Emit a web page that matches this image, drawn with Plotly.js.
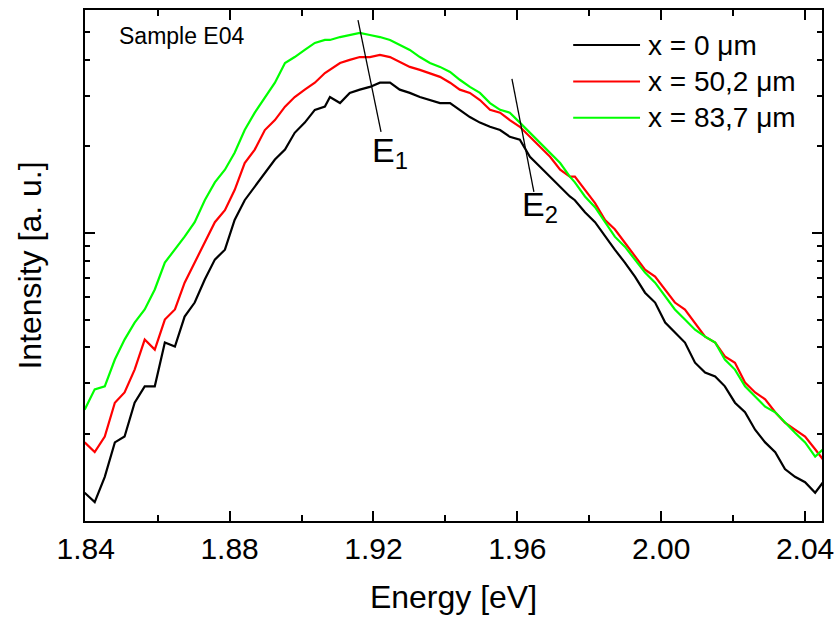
<!DOCTYPE html>
<html>
<head>
<meta charset="utf-8">
<script src="https://cdn.plot.ly/plotly-3.0.1.min.js"></script>
<style>html,body{margin:0;padding:0;background:#fff;}#chart{width:837px;height:621px;}</style>
</head>
<body>
<div id="chart"></div>
<script>
// Energy axis (eV), shared by all three spectra
const energy = [
  1.8397, 1.8425, 1.8453, 1.8481, 1.8508, 1.8536, 1.8564, 1.8592, 1.8620, 1.8648,
  1.8675, 1.8703, 1.8731, 1.8759, 1.8787, 1.8814, 1.8842, 1.8870, 1.8898, 1.8926,
  1.8954, 1.8981, 1.9009, 1.9037, 1.9065,
  1.9079, 1.9107, 1.9134, 1.9162, 1.9190, 1.9218, 1.9246, 1.9273, 1.9301, 1.9329,
  1.9357, 1.9385, 1.9413, 1.9440, 1.9468, 1.9496, 1.9524, 1.9552, 1.9579, 1.9607,
  1.9635, 1.9663, 1.9691, 1.9719, 1.9746,
  1.9760, 1.9788, 1.9816, 1.9844, 1.9871, 1.9899, 1.9927, 1.9955, 1.9983, 2.0011,
  2.0038, 2.0066, 2.0094, 2.0122, 2.0150, 2.0177, 2.0205, 2.0233, 2.0261, 2.0289,
  2.0317, 2.0344, 2.0372, 2.0400, 2.0428, 2.0450
];

// Intensity [a. u.] for x = 0 µm
const intensity0 = [
  125, 116, 142, 187, 196, 257, 293, 293, 416, 403,
  512, 573, 689, 808, 875, 1110, 1300, 1450, 1620, 1800,
  1950, 2230, 2420, 2680, 2750,
  2970, 2830, 3070, 3150, 3220, 3330, 3330, 3150, 3070, 2970,
  2900, 2830, 2830, 2680, 2530, 2420, 2340, 2280, 2160, 2110,
  1840, 1700, 1570, 1450, 1340,
  1300, 1180, 1090, 971, 875, 789, 705, 620, 573, 488,
  450, 416, 354, 327, 317, 293, 257, 238, 207, 187,
  173, 151, 142, 136, 125, 136
];

// Intensity [a. u.] for x = 50,2 µm
const intensity50 = [
  187, 173, 196, 257, 279, 335, 426, 393, 500, 542,
  672, 789, 925, 1090, 1200, 1410, 1750, 1950, 2280, 2470,
  2750, 2970, 3150, 3330, 3600,
  3690, 3900, 4000, 4090, 4090, 4160, 4090, 3930, 3780, 3690,
  3600, 3490, 3330, 3150, 3070, 2900, 2680, 2620, 2470, 2340,
  2160, 1990, 1840, 1660, 1570,
  1570, 1410, 1270, 1110, 1030, 925, 827, 746, 705, 636,
  573, 542, 488, 436, 416, 372, 354, 302, 279, 264,
  238, 219, 207, 196, 177, 163
];

// Intensity [a. u.] for x = 83,7 µm
const intensity84 = [
  243, 286, 293, 363, 426, 488, 542, 636, 789, 875,
  971, 1090, 1300, 1500, 1660, 1900, 2280, 2620, 2970, 3330,
  3900, 4090, 4330, 4580, 4690,
  4690, 4800, 4880, 4960, 4880, 4800, 4690, 4510, 4330, 4090,
  3900, 3780, 3630, 3410, 3220, 3070, 2830, 2680, 2620, 2420,
  2230, 2060, 1900, 1750, 1570,
  1500, 1340, 1230, 1090, 971, 896, 808, 728, 672, 601,
  542, 500, 461, 436, 416, 363, 335, 293, 270, 249,
  238, 219, 202, 187, 167, 177
];

const seriesNames = ['x = 0 \u03bcm', 'x = 50,2 \u03bcm', 'x = 83,7 \u03bcm'];
const seriesColors = ['#000000', '#ff0000', '#00ff00'];

// Marker lines for the two peaks E1 and E2 (energy, intensity)
const e1LineX = [1.9157, 1.9221];
const e1LineY = [5500, 2247];
const e2LineX = [1.9585, 1.9646];
const e2LineY = [3435, 1391];

const xTickVals = [1.84, 1.88, 1.92, 1.96, 2.00, 2.04];
const xMinorVals = [1.86, 1.90, 1.94, 1.98, 2.02];
const yTickVals = [100, 1000];
const yMinorVals = [200, 300, 400, 500, 600, 700, 800, 900, 2000, 3000, 4000, 5000, 6000];

const FONT = 'Liberation Sans, Arial, sans-serif';
const allY = [intensity0, intensity50, intensity84];

const traces = allY.map((y, i) => ({
  type: 'scatter', mode: 'lines', x: energy, y: y, name: seriesNames[i],
  line: {color: seriesColors[i], width: 2.2}, showlegend: false
}));
traces.push({type: 'scatter', mode: 'lines', x: e1LineX, y: e1LineY, line: {color: '#000', width: 1.3}, showlegend: false, hoverinfo: 'skip'});
traces.push({type: 'scatter', mode: 'lines', x: e2LineX, y: e2LineY, line: {color: '#000', width: 1.3}, showlegend: false, hoverinfo: 'skip'});

// custom legend (long line samples like the original)
const legendRowsY = [0.9315, 0.860, 0.789];
const shapes = [];
const annotations = [];
seriesNames.forEach((n, i) => {
  shapes.push({type: 'line', xref: 'paper', yref: 'paper', x0: 0.6624, x1: 0.7531,
    y0: legendRowsY[i], y1: legendRowsY[i], line: {color: seriesColors[i], width: 2}});
  annotations.push({xref: 'paper', yref: 'paper', x: 0.7612, y: legendRowsY[i], xanchor: 'left', yanchor: 'middle',
    text: n, showarrow: false, font: {family: FONT, size: 28, color: '#000'}});
});
annotations.push({xref: 'paper', yref: 'paper', x: 0.044, y: 0.950, xanchor: 'left', yanchor: 'middle',
  text: 'Sample E04', showarrow: false, font: {family: FONT, size: 23, color: '#000'}});
annotations.push({xref: 'x', yref: 'y', x: 1.9190, y: Math.log10(1900), xanchor: 'left', yanchor: 'middle',
  text: 'E<sub>1</sub>', showarrow: false, font: {family: FONT, size: 34, color: '#000'}});
annotations.push({xref: 'x', yref: 'y', x: 1.9608, y: Math.log10(1240), xanchor: 'left', yanchor: 'middle',
  text: 'E<sub>2</sub>', showarrow: false, font: {family: FONT, size: 34, color: '#000'}});

const layout = {
  width: 837, height: 621,
  margin: {l: 85, r: 15, t: 10, b: 100},
  paper_bgcolor: '#fff', plot_bgcolor: '#fff',
  font: {family: FONT, color: '#000'},
  showlegend: false,
  xaxis: {
    range: [1.8398, 2.0447], tickmode: 'array', tickvals: xTickVals, tickformat: '.2f',
    ticks: 'inside', ticklen: 10, tickwidth: 2, tickcolor: '#000',
    minor: {tickmode: 'array', tickvals: xMinorVals, ticks: 'inside', ticklen: 6, tickwidth: 2, tickcolor: '#000', showgrid: false},
    showline: true, linewidth: 2, linecolor: '#000', mirror: 'ticks',
    showgrid: false, zeroline: false,
    tickfont: {family: FONT, size: 30, color: '#000'},
    title: {text: 'Energy [eV]', font: {family: FONT, size: 32, color: '#000'}, standoff: 22}
  },
  yaxis: {
    type: 'log', range: [1.9986, 3.7753], tickmode: 'array', tickvals: yTickVals,
    showticklabels: false,
    ticks: 'inside', ticklen: 10, tickwidth: 2, tickcolor: '#000',
    minor: {tickmode: 'array', tickvals: yMinorVals, ticks: 'inside', ticklen: 5, tickwidth: 2, tickcolor: '#000', showgrid: false},
    showline: true, linewidth: 2, linecolor: '#000', mirror: 'ticks',
    showgrid: false, zeroline: false,
    title: {text: 'Intensity [a. u.]', font: {family: FONT, size: 32, color: '#000'}, standoff: 32}
  },
  shapes: shapes,
  annotations: annotations
};

Plotly.newPlot('chart', traces, layout, {displayModeBar: false, staticPlot: true});
</script>
</body>
</html>
